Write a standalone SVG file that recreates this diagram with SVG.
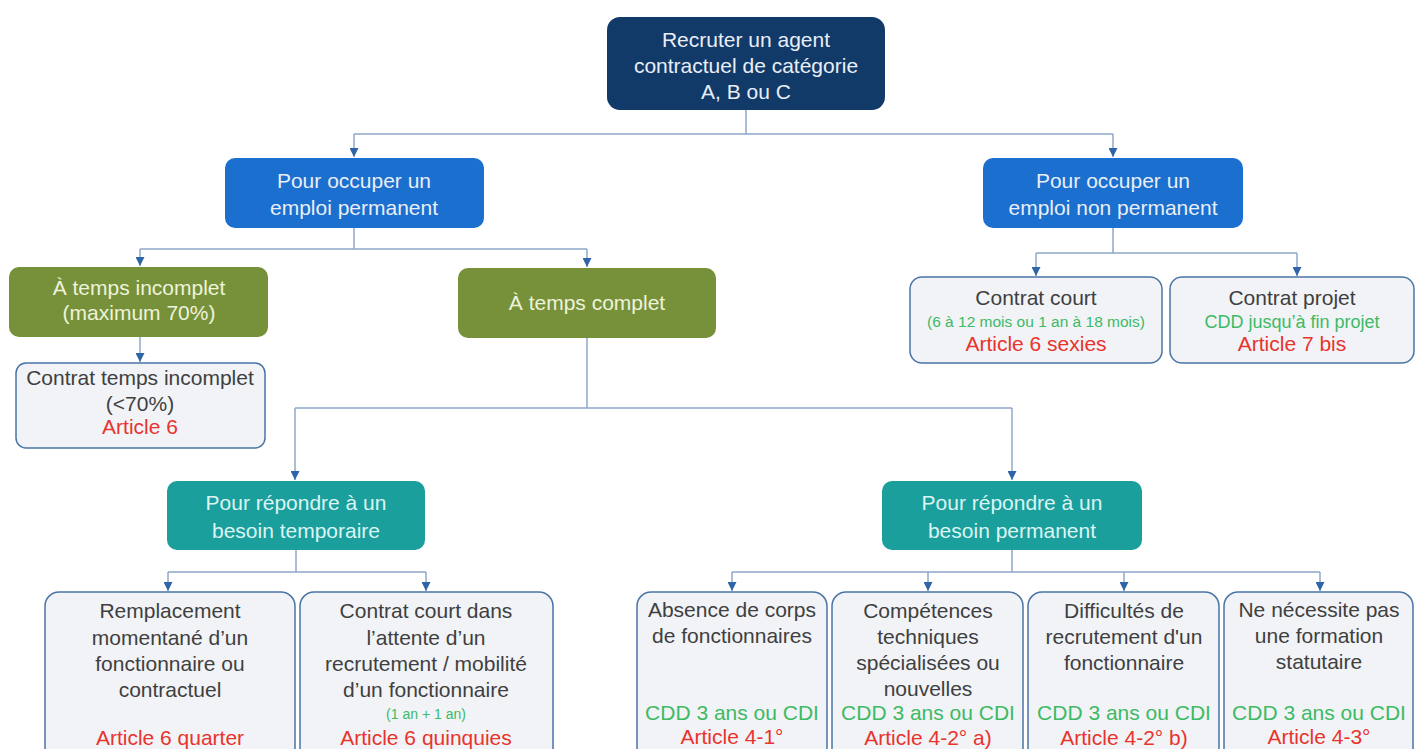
<svg xmlns="http://www.w3.org/2000/svg" width="1415" height="749" viewBox="0 0 1415 749">
<defs>
<marker id="arr" viewBox="0 0 10 10" refX="10" refY="5" markerWidth="9" markerHeight="9" markerUnits="userSpaceOnUse" orient="auto">
<path d="M0,0 L10,5 L0,10 z" fill="#2f64a8"/>
</marker>
<style>
text{font-family:"Liberation Sans",Arial,sans-serif;font-size:21px;text-anchor:middle}
.navy{fill:#123a68}
.blue{fill:#1b6fce}
.olive{fill:#77913a}
.teal{fill:#1a9f9d}
.lite{fill:#f1f3f7;stroke:#4a74a6;stroke-width:1.5}
.wt{fill:#e9eef7}
.wg{fill:#eef3dc}
.wc{fill:#dcf5f3}
.dk{fill:#3f3f3f}
.gr{fill:#3dba64}
.rd{fill:#e8342c}
.sm{font-size:14px}
.sm2{font-size:15.5px}
.md{font-size:18px}
.con{fill:none;stroke:#90a7c9;stroke-width:1.5}
.arw{fill:none;stroke:#90a7c9;stroke-width:1.5;marker-end:url(#arr)}
</style>
</defs>
<rect width="1415" height="749" fill="#ffffff"/>
<g id="connectors">
<path class="con" d="M746,110 V134 M354,134 H1113"/>
<path class="arw" d="M354,134 V157"/>
<path class="arw" d="M1113,134 V157"/>
<path class="con" d="M354,228 V249 M140,249 H587"/>
<path class="arw" d="M140,249 V266"/>
<path class="arw" d="M587,249 V267"/>
<path class="con" d="M1113,228 V253 M1036,253 H1297"/>
<path class="arw" d="M1036,253 V276"/>
<path class="arw" d="M1297,253 V276"/>
<path class="arw" d="M140,337 V362"/>
<path class="con" d="M587,338 V408 M295,408 H1012"/>
<path class="arw" d="M295,408 V480"/>
<path class="arw" d="M1012,408 V480"/>
<path class="con" d="M296,550 V572 M168,572 H426"/>
<path class="arw" d="M168,572 V591"/>
<path class="arw" d="M426,572 V591"/>
<path class="con" d="M1012,550 V572 M732,572 H1320"/>
<path class="arw" d="M732,572 V591"/>
<path class="arw" d="M928,572 V591"/>
<path class="arw" d="M1124,572 V591"/>
<path class="arw" d="M1320,572 V591"/>
</g>
<g id="n-recruter">
<rect class="navy" x="607" y="17" width="278" height="93" rx="13"/>
<text class="wt" x="746" y="47">Recruter un agent</text>
<text class="wt" x="746" y="73">contractuel de catégorie</text>
<text class="wt" x="746" y="99">A, B ou C</text>
</g>
<g id="n-permanent">
<rect class="blue" x="225" y="158" width="259" height="70" rx="10"/>
<text class="wt" x="354" y="188">Pour occuper un</text>
<text class="wt" x="354" y="215">emploi permanent</text>
</g>
<g id="n-nonpermanent">
<rect class="blue" x="983" y="158" width="260" height="70" rx="10"/>
<text class="wt" x="1113" y="188">Pour occuper un</text>
<text class="wt" x="1113" y="215">emploi non permanent</text>
</g>
<g id="n-incomplet">
<rect class="olive" x="9" y="267" width="259" height="70" rx="10"/>
<text class="wg" x="139" y="295">À temps incomplet</text>
<text class="wg" x="139" y="320">(maximum 70%)</text>
</g>
<g id="n-complet">
<rect class="olive" x="458" y="268" width="258" height="70" rx="10"/>
<text class="wg" x="587" y="310">À temps complet</text>
</g>
<g id="n-contrat-incomplet">
<rect class="lite" x="16" y="363" width="249" height="85" rx="10"/>
<text class="dk" x="140" y="385">Contrat temps incomplet</text>
<text class="dk" x="140" y="411">(&lt;70%)</text>
<text class="rd" x="140" y="434">Article 6</text>
</g>
<g id="n-contrat-court">
<rect class="lite" x="910" y="277" width="252" height="86" rx="12"/>
<text class="dk" x="1036" y="305">Contrat court</text>
<text class="gr sm2" x="1036" y="327">(6 à 12 mois ou 1 an à 18 mois)</text>
<text class="rd" x="1036" y="351">Article 6 sexies</text>
</g>
<g id="n-contrat-projet">
<rect class="lite" x="1170" y="277" width="244" height="86" rx="12"/>
<text class="dk" x="1292" y="305">Contrat projet</text>
<text class="gr md" x="1292" y="328">CDD jusqu’à  fin projet</text>
<text class="rd" x="1292" y="351">Article 7 bis</text>
</g>
<g id="n-temporaire">
<rect class="teal" x="167" y="481" width="258" height="69" rx="10"/>
<text class="wc" x="296" y="510">Pour répondre à un</text>
<text class="wc" x="296" y="538">besoin temporaire</text>
</g>
<g id="n-besoin-permanent">
<rect class="teal" x="882" y="481" width="260" height="69" rx="10"/>
<text class="wc" x="1012" y="510">Pour répondre à un</text>
<text class="wc" x="1012" y="538">besoin permanent</text>
</g>
<g id="n-remplacement">
<rect class="lite" x="45" y="592" width="250" height="175" rx="14"/>
<text class="dk" x="170" y="618">Remplacement</text>
<text class="dk" x="170" y="645">momentané d’un</text>
<text class="dk" x="170" y="671">fonctionnaire ou</text>
<text class="dk" x="170" y="697">contractuel</text>
<text class="rd" x="170" y="745">Article 6 quarter</text>
</g>
<g id="n-attente">
<rect class="lite" x="300" y="592" width="253" height="175" rx="14"/>
<text class="dk" x="426" y="618">Contrat court dans</text>
<text class="dk" x="426" y="645">l’attente d’un</text>
<text class="dk" x="426" y="671">recrutement / mobilité</text>
<text class="dk" x="426" y="697">d’un fonctionnaire</text>
<text class="gr sm" x="426" y="719">(1 an + 1 an)</text>
<text class="rd" x="426" y="745">Article 6 quinquies</text>
</g>
<g id="n-absence">
<rect class="lite" x="637" y="592" width="190" height="175" rx="14"/>
<text class="dk" x="732" y="617">Absence de corps</text>
<text class="dk" x="732" y="643">de fonctionnaires</text>
<text class="gr" x="732" y="720">CDD 3 ans ou CDI</text>
<text class="rd" x="732" y="744">Article 4-1°</text>
</g>
<g id="n-competences">
<rect class="lite" x="832" y="592" width="191" height="175" rx="14"/>
<text class="dk" x="928" y="618">Compétences</text>
<text class="dk" x="928" y="644">techniques</text>
<text class="dk" x="928" y="670">spécialisées ou</text>
<text class="dk" x="928" y="696">nouvelles</text>
<text class="gr" x="928" y="720">CDD 3 ans ou CDI</text>
<text class="rd" x="928" y="745">Article 4-2° a)</text>
</g>
<g id="n-difficultes">
<rect class="lite" x="1028" y="592" width="191" height="175" rx="14"/>
<text class="dk" x="1124" y="618">Difficultés de</text>
<text class="dk" x="1124" y="644">recrutement d'un</text>
<text class="dk" x="1124" y="670">fonctionnaire</text>
<text class="gr" x="1124" y="720">CDD 3 ans ou CDI</text>
<text class="rd" x="1124" y="745">Article 4-2° b)</text>
</g>
<g id="n-formation">
<rect class="lite" x="1224" y="592" width="189" height="175" rx="14"/>
<text class="dk" x="1319" y="617">Ne nécessite pas</text>
<text class="dk" x="1319" y="643">une formation</text>
<text class="dk" x="1319" y="669">statutaire</text>
<text class="gr" x="1319" y="720">CDD 3 ans ou CDI</text>
<text class="rd" x="1319" y="744">Article 4-3°</text>
</g>
</svg>
